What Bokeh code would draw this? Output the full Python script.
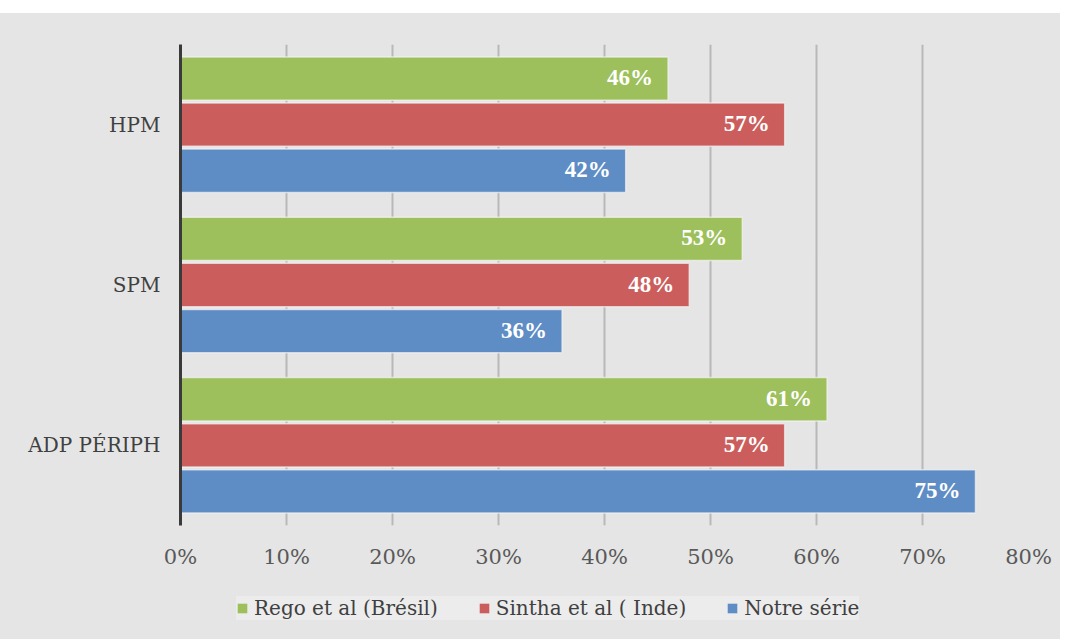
from bokeh.plotting import figure
from bokeh.models import ColumnDataSource, FactorRange, NumeralTickFormatter, FixedTicker, Legend, LegendItem, LabelSet, Spacer
from bokeh.layouts import column
from bokeh.transform import dodge
from bokeh.embed import file_html
from bokeh.resources import INLINE

categories = ["ADP PÉRIPH", "SPM", "HPM"]
rego = [0.61, 0.53, 0.46]
sintha = [0.57, 0.48, 0.57]
notre = [0.75, 0.36, 0.42]
series_names = ["Rego et al (Brésil)", "Sintha et al ( Inde)", "Notre série"]
x_ticks = [0, 0.1, 0.2, 0.3, 0.4, 0.5, 0.6, 0.7, 0.8]

colors = ["#9dc05c", "#cb5e5c", "#5e8cc5"]
offsets = [0.2875, 0.0, -0.2875]
FONT = "DejaVu Serif"
BG = "#e5e5e5"

p = figure(width=1060, height=562, y_range=FactorRange(*categories), x_range=(0, 0.8),
           output_backend="svg", toolbar_location=None,
           min_border_left=180, min_border_top=31, min_border_right=32, min_border_bottom=50)

p.background_fill_color = BG
p.border_fill_color = BG
p.outline_line_color = None

src = ColumnDataSource(dict(cat=categories, rego=rego, sintha=sintha, notre=notre,
                            rego_l=[f"{round(v*100)}%" for v in rego],
                            sintha_l=[f"{round(v*100)}%" for v in sintha],
                            notre_l=[f"{round(v*100)}%" for v in notre]))

for key, col, off in zip(["rego", "sintha", "notre"], colors, offsets):
    p.hbar(y=dodge("cat", off, range=p.y_range), right=key, left=0, height=0.27, source=src,
           fill_color=col, line_color="#f4f4f4", line_alpha=0.7, line_width=1.5)
    lab = LabelSet(x=key, y=dodge("cat", off, range=p.y_range), text=key + "_l", source=src,
                   text_align="right", text_baseline="middle", x_offset=-15, y_offset=1,
                   text_color="white", text_font=FONT, text_font_style="bold",
                   text_font_size="23px")
    p.add_layout(lab)

p.xaxis.ticker = FixedTicker(ticks=x_ticks)
p.xaxis.formatter = NumeralTickFormatter(format="0%")
p.xaxis.axis_line_color = None
p.xaxis.major_tick_line_color = None
p.xaxis.minor_tick_line_color = None
p.xaxis.major_label_text_font = FONT
p.xaxis.major_label_text_font_size = "21px"
p.xaxis.major_label_text_color = "#595959"
p.xaxis.major_label_standoff = 13

p.yaxis.axis_line_color = "#3a3a3a"
p.yaxis.axis_line_width = 3
p.yaxis.major_tick_line_color = None
p.yaxis.minor_tick_line_color = None
p.yaxis.major_label_text_font = FONT
p.yaxis.major_label_text_font_size = "20px"
p.yaxis.major_label_text_color = "#404040"
p.yaxis.major_label_standoff = 14

p.ygrid.grid_line_color = None
p.xgrid.grid_line_color = "#b8b8b8"
p.xgrid.grid_line_width = 2

# legend strip (hidden swatch glyphs lie outside its range, only the legend is seen)
p2 = figure(width=1060, height=64, x_range=(0, 1), y_range=(0, 1),
            output_backend="svg", toolbar_location=None, min_border=0)
p2.background_fill_color = BG
p2.border_fill_color = BG
p2.outline_line_color = None
p2.axis.visible = False
p2.grid.visible = False
legend_renderers = []
for col in colors:
    legend_renderers.append(p2.hbar(y=[-5], right=[0], left=[0], height=0.1,
                                    fill_color=col, line_color=None))

legend = Legend(items=[LegendItem(label=n, renderers=[r]) for n, r in zip(series_names, legend_renderers)],
                orientation="horizontal", location=(56, 19))
legend.label_text_font = FONT
legend.label_text_font_size = "20px"
legend.label_text_color = "#404040"
legend.glyph_width = 12
legend.glyph_height = 12
legend.label_standoff = 6
legend.spacing = 40
legend.padding = 10
legend.background_fill_color = "#ececec"
legend.border_line_color = None
legend.margin = 0
p2.add_layout(legend, "center")

top = Spacer(height=13, width=1060, styles={"background-color": "white"})
layout = column(top, p, p2, spacing=0, styles={"background-color": BG})
open("out.html", "w").write(file_html(layout, INLINE))
